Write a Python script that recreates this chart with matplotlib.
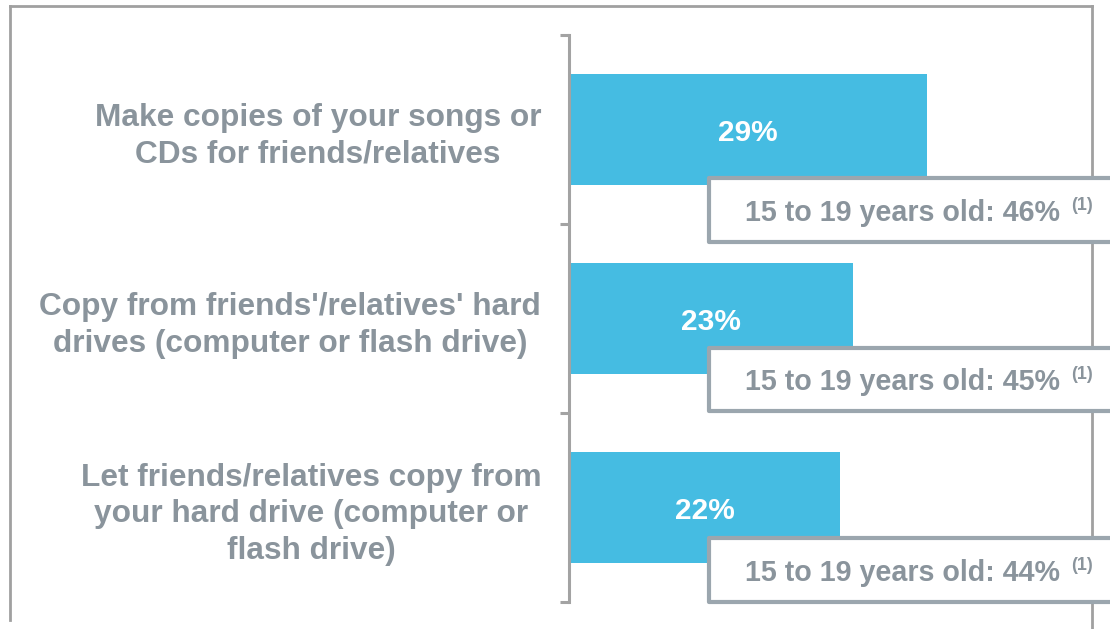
import matplotlib
matplotlib.use("Agg")
import matplotlib.pyplot as plt
from matplotlib.patches import Rectangle
from matplotlib.lines import Line2D

plt.rcParams['font.family'] = ['Liberation Sans', 'DejaVu Sans']

categories = [
    "Make copies of your songs or\nCDs for friends/relatives",
    "Copy from friends'/relatives' hard\ndrives (computer or flash drive)",
    "Let friends/relatives copy from\nyour hard drive (computer or\nflash drive)",
]
values = [29, 23, 22]
teen_values = [46, 45, 44]
teen_label = "15 to 19 years old: {}%"
footnote = "(1)"

BAR = "#45BCE2"
GRAY_TXT = "#8A949C"
BOX_EDGE = "#9BA6AE"
AXIS_GRAY = "#A3A3A3"

W, H = 1110, 629
fig = plt.figure(figsize=(W / 100, H / 100), dpi=100)
fig.patch.set_facecolor("white")

# axes placement in pixels
px_left, px_right, px_top, px_bottom = 569, 1110, 35, 602
ax = fig.add_axes([px_left / W, (H - px_bottom) / H,
                   (px_right - px_left) / W, (px_bottom - px_top) / H])
ax.set_facecolor("none")
px_per_unit = 12.33
ax.set_xlim(0, (px_right - px_left) / px_per_unit)
ax.set_ylim(len(values) - 0.5, -0.5)

ypos = list(range(len(values)))
ax.barh(ypos, values, height=0.587, color=BAR, zorder=2)

for y, v in zip(ypos, values):
    ax.text(v / 2, y + 0.02, f"{v}%", ha="center", va="center",
            color="white", fontsize=21.5, fontweight="bold", zorder=4)

# spines/ticks
for s in ["top", "right", "bottom"]:
    ax.spines[s].set_visible(False)
ax.spines["left"].set_color(AXIS_GRAY)
ax.spines["left"].set_linewidth(2.2)
ax.set_xticks([])
ax.set_yticks(ypos)
ax.set_yticklabels(categories)
ax.tick_params(axis="y", which="major", length=0, pad=20)
ax.set_yticks([-0.5, 0.5, 1.5, 2.5], minor=True)
ax.tick_params(axis="y", which="minor", length=6.5, width=2.2, color=AXIS_GRAY)
for lab in ax.get_yticklabels():
    lab.set_multialignment("center")
    lab.set_fontsize(22.8)
    lab.set_fontweight("bold")
    lab.set_color(GRAY_TXT)
    lab.set_linespacing(1.3)

# annotation boxes (pixel-based layout)
box_top_px = [178, 348, 538]
box_bot_px = [242, 411, 602]

def py_to_data(py):
    return -0.5 + (py - px_top) / (px_bottom - px_top) * len(values)

box_x0 = (709 - px_left) / px_per_unit
text_x = (745 - px_left) / px_per_unit
for i, tv in enumerate(teen_values):
    y0 = py_to_data(box_top_px[i])
    y1 = py_to_data(box_bot_px[i])
    rect = Rectangle((box_x0, y0), 60 - box_x0, y1 - y0, facecolor="white",
                     edgecolor=BOX_EDGE, linewidth=3, zorder=3, clip_on=False,
                     joinstyle="round")
    ax.add_patch(rect)
    t = ax.text(text_x, (y0 + y1) / 2 + 0.015, teen_label.format(tv), ha="left",
                va="center", color=GRAY_TXT, fontsize=20.6, fontweight="bold",
                zorder=4)
    ax.annotate(footnote, xy=(1, 0.47), xycoords=t, xytext=(8, 0),
                textcoords="offset points", ha="left", va="bottom",
                fontsize=13, fontweight="bold", color=GRAY_TXT, zorder=4)

# outer frame (partial, behind boxes)
frame_kw = dict(color="#A0A0A0", linewidth=2, transform=fig.transFigure,
                clip_on=False, zorder=0.5)
fx0, fx1 = 9.5 / W, 1092 / W
fy_top = 1 - 5.5 / H
fy_bot = 1 - 620 / H
ax.add_line(Line2D([fx0, fx1], [fy_top, fy_top], **frame_kw))
ax.add_line(Line2D([fx0, fx0], [fy_top, fy_bot], **frame_kw))
ax.add_line(Line2D([fx1, fx1], [fy_top, 0], **frame_kw))

fig.savefig("out.png", dpi=100, facecolor="white")
